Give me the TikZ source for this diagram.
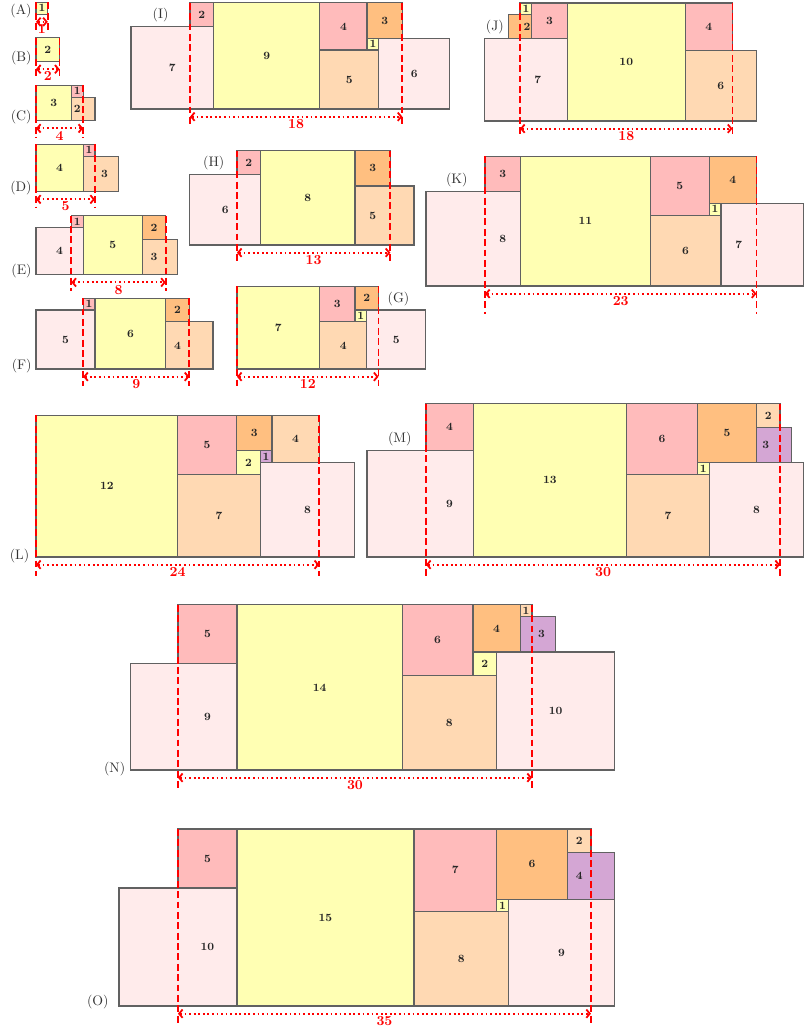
\documentclass[tikz,border=0pt]{standalone}
\usetikzlibrary{arrows.meta}

\definecolor{sqyel}{RGB}{255,255,179}
\definecolor{sqpink}{RGB}{255,187,187}
\definecolor{sqorange}{RGB}{255,191,128}
\definecolor{sqpeach}{RGB}{255,217,179}
\definecolor{sqrose}{RGB}{255,235,235}
\definecolor{sqlilac}{RGB}{212,166,212}

% one square: [label x], colour, x, y, side
\newcommand{\sqbox}[5][]{%
  \draw[sqline, fill=#2] (#3,#4) rectangle ++(#5,#5);
  \if\relax\detokenize{#1}\relax
    \node[sqlabel] (s#5) at ({#3+#5/2},{#4+#5/2}) {#5};
  \else
    \node[sqlabel] (s#5) at ({#1},{#4+#5/2}) {#5};
  \fi}
% red cut lines and width arrow: [bottom], width, top
\newcommand{\widthmark}[3][-1.4]{%
  \draw[cutline] (0,#3) -- (0,#1);
  \draw[cutline] (#2,#3) -- (#2,#1);
  \coordinate (wl) at (0,-0.65);
  \coordinate (wr) at (#2,-0.65);
  \draw[spanarr] (wl) -- (wr) node[spanlabel, midway, below] (w) {#2};}

\begin{document}
\begin{tikzpicture}[x=0.3cm, y=0.3cm,
    sqline/.style={draw=black!62, line width=0.8pt},
    sqlabel/.style={font=\footnotesize\bfseries, text=black!85, inner sep=0pt},
    cutline/.style={red, line width=1.3pt, dash pattern=on 5pt off 2.5pt},
    spanarr/.style={red, line width=1.3pt, dotted, {Straight Barb[length=2.5pt,width=6pt]}-{Straight Barb[length=2.5pt,width=6pt]}},
    spanlabel/.style={text=red, font=\bfseries, inner sep=1.2pt},
    figlabel/.style={text=black!80, inner sep=3pt}]
  \useasboundingbox (0,0) rectangle (68.22,-87.37);

  % (A)
  \begin{scope}[shift={(3.05,-1.2)}, name prefix=A-]
    \sqbox{sqyel}{0}{0}{1}
    \widthmark{1}{1}
    \node[figlabel, anchor=base east] (lab) at (0,0) {(A)};
  \end{scope}

  % (B)
  \begin{scope}[shift={(3.05,-5.21)}, name prefix=B-]
    \sqbox{sqyel}{0}{0}{2}
    \widthmark{2}{2}
    \node[figlabel, anchor=base east] (lab) at (0,0) {(B)};
  \end{scope}

  % (C)
  \begin{scope}[shift={(3.05,-10.23)}, name prefix=C-]
    \sqbox{sqyel}{0}{0}{3}
    \sqbox{sqpink}{3}{2}{1}
    \sqbox[3.5]{sqpeach}{3}{0}{2}
    \widthmark{4}{3}
    \node[figlabel, anchor=base east] (lab) at (0,0) {(C)};
  \end{scope}

  % (D)
  \begin{scope}[shift={(3.05,-16.24)}, name prefix=D-]
    \sqbox{sqyel}{0}{0}{4}
    \sqbox{sqpink}{4}{3}{1}
    \sqbox[5.8]{sqpeach}{4}{0}{3}
    \widthmark{5}{4}
    \node[figlabel, anchor=base east] (lab) at (0,0) {(D)};
  \end{scope}

  % (E)
  \begin{scope}[shift={(6.05,-23.28)}, name prefix=E-]
    \sqbox{sqrose}{-3}{0}{4}
    \sqbox{sqpink}{0}{4}{1}
    \sqbox{sqyel}{1}{0}{5}
    \sqbox{sqorange}{6}{3}{2}
    \sqbox[7]{sqpeach}{6}{0}{3}
    \widthmark{8}{5}
    \node[figlabel, anchor=base east] (lab) at (-3,0) {(E)};
  \end{scope}

  % (F)
  \begin{scope}[shift={(7.05,-31.27)}, name prefix=F-]
    \sqbox{sqrose}{-4}{0}{5}
    \sqbox{sqpink}{0}{5}{1}
    \sqbox{sqyel}{1}{0}{6}
    \sqbox{sqorange}{7}{4}{2}
    \sqbox[8]{sqpeach}{7}{0}{4}
    \widthmark{9}{6}
    \node[figlabel, anchor=base east] (lab) at (-4,0) {(F)};
  \end{scope}

  % (G)
  \begin{scope}[shift={(20.08,-31.27)}, name prefix=G-]
    \sqbox{sqyel}{0}{0}{7}
    \sqbox{sqpink}{7}{4}{3}
    \sqbox{sqorange}{10}{5}{2}
    \sqbox{sqyel}{10}{4}{1}
    \sqbox{sqpeach}{7}{0}{4}
    \sqbox{sqrose}{11}{0}{5}
    \widthmark{12}{7}
    \node[figlabel, anchor=south west] (lab) at (12.4,5) {(G)};
  \end{scope}

  % (H)
  \begin{scope}[shift={(20.08,-20.76)}, name prefix=H-]
    \sqbox{sqrose}{-4}{0}{6}
    \sqbox{sqpink}{0}{6}{2}
    \sqbox{sqyel}{2}{0}{8}
    \sqbox[11.5]{sqorange}{10}{5}{3}
    \sqbox[11.5]{sqpeach}{10}{0}{5}
    \widthmark{13}{8}
    \node[figlabel, anchor=south east] (lab) at (-0.7,6) {(H)};
  \end{scope}

  % (I)
  \begin{scope}[shift={(16.10,-9.24)}, name prefix=I-]
    \sqbox{sqrose}{-5}{0}{7}
    \sqbox{sqpink}{0}{7}{2}
    \sqbox{sqyel}{2}{0}{9}
    \sqbox{sqpink}{11}{5}{4}
    \sqbox{sqorange}{15}{6}{3}
    \sqbox{sqyel}{15}{5}{1}
    \sqbox{sqpeach}{11}{0}{5}
    \sqbox{sqrose}{16}{0}{6}
    \widthmark{18}{9}
    \node[figlabel, anchor=south east] (lab) at (-1.45,7) {(I)};
  \end{scope}

  % (J)
  \begin{scope}[shift={(44.07,-10.25)}, name prefix=J-]
    \sqbox{sqyel}{0}{9}{1}
    \sqbox[0.6]{sqorange}{-1}{7}{2}
    \sqbox{sqpink}{1}{7}{3}
    \sqbox[1.5]{sqrose}{-3}{0}{7}
    \sqbox{sqyel}{4}{0}{10}
    \sqbox{sqpink}{14}{6}{4}
    \sqbox{sqpeach}{14}{0}{6}
    \widthmark{18}{10}
    \node[figlabel, anchor=south east] (lab) at (-1,7) {(J)};
  \end{scope}

  % (K)
  \begin{scope}[shift={(41.10,-24.24)}, name prefix=K-]
    \sqbox{sqpink}{0}{8}{3}
    \sqbox[1.5]{sqrose}{-5}{0}{8}
    \sqbox{sqyel}{3}{0}{11}
    \sqbox{sqpink}{14}{6}{5}
    \sqbox{sqorange}{19}{7}{4}
    \sqbox{sqyel}{19}{6}{1}
    \sqbox{sqpeach}{14}{0}{6}
    \sqbox[21.5]{sqrose}{20}{0}{7}
    \widthmark[-2.4]{23}{11}
    \node[figlabel, anchor=south east] (lab) at (-1.1,8) {(K)};
  \end{scope}

  % (L)
  \begin{scope}[shift={(3.05,-47.2)}, name prefix=L-]
    \sqbox{sqyel}{0}{0}{12}
    \sqbox{sqpink}{12}{7}{5}
    \sqbox{sqorange}{17}{9}{3}
    \sqbox{sqpeach}{20}{8}{4}
    \sqbox{sqyel}{17}{7}{2}
    \sqbox{sqlilac}{19}{8}{1}
    \sqbox{sqpeach}{12}{0}{7}
    \sqbox{sqrose}{19}{0}{8}
    \widthmark[-1.6]{24}{12}
    \node[figlabel, anchor=base east] (lab) at (-0.2,-0.2) {(L)};
  \end{scope}

  % (M)
  \begin{scope}[shift={(36.1,-47.2)}, name prefix=M-]
    \sqbox{sqpink}{0}{9}{4}
    \sqbox[2]{sqrose}{-5}{0}{9}
    \sqbox{sqyel}{4}{0}{13}
    \sqbox{sqpink}{17}{7}{6}
    \sqbox{sqorange}{23}{8}{5}
    \sqbox{sqpeach}{28}{11}{2}
    \sqbox[28.8]{sqlilac}{28}{8}{3}
    \sqbox{sqyel}{23}{7}{1}
    \sqbox{sqpeach}{17}{0}{7}
    \sqbox{sqrose}{24}{0}{8}
    \widthmark[-1.6]{30}{13}
    \node[figlabel, anchor=south east] (lab) at (-0.85,9) {(M)};
  \end{scope}

  % (N)
  \begin{scope}[shift={(15.08,-65.25)}, name prefix=N-]
    \sqbox{sqpink}{0}{9}{5}
    \sqbox[2.5]{sqrose}{-4}{0}{9}
    \sqbox{sqyel}{5}{0}{14}
    \sqbox{sqpink}{19}{8}{6}
    \sqbox{sqorange}{25}{10}{4}
    \sqbox{sqpeach}{29}{13}{1}
    \sqbox[30.8]{sqlilac}{29}{10}{3}
    \sqbox{sqyel}{25}{8}{2}
    \sqbox{sqpeach}{19}{0}{8}
    \sqbox{sqrose}{27}{0}{10}
    \widthmark[-1.5]{30}{14}
    \node[figlabel, anchor=base east] (lab) at (-4.1,-0.25) {(N)};
  \end{scope}

  % (O)
  \begin{scope}[shift={(15.08,-85.25)}, name prefix=O-]
    \sqbox{sqpink}{0}{10}{5}
    \sqbox[2.5]{sqrose}{-5}{0}{10}
    \sqbox{sqyel}{5}{0}{15}
    \sqbox{sqpink}{20}{8}{7}
    \sqbox{sqorange}{27}{9}{6}
    \sqbox[34]{sqpeach}{33}{13}{2}
    \sqbox[34]{sqlilac}{33}{9}{4}
    \sqbox{sqyel}{27}{8}{1}
    \sqbox{sqpeach}{20}{0}{8}
    \sqbox{sqrose}{28}{0}{9}
    \widthmark[-1.4]{35}{15}
    \node[figlabel, anchor=base east] (lab) at (-5.5,0) {(O)};
  \end{scope}
\end{tikzpicture}
\end{document}
